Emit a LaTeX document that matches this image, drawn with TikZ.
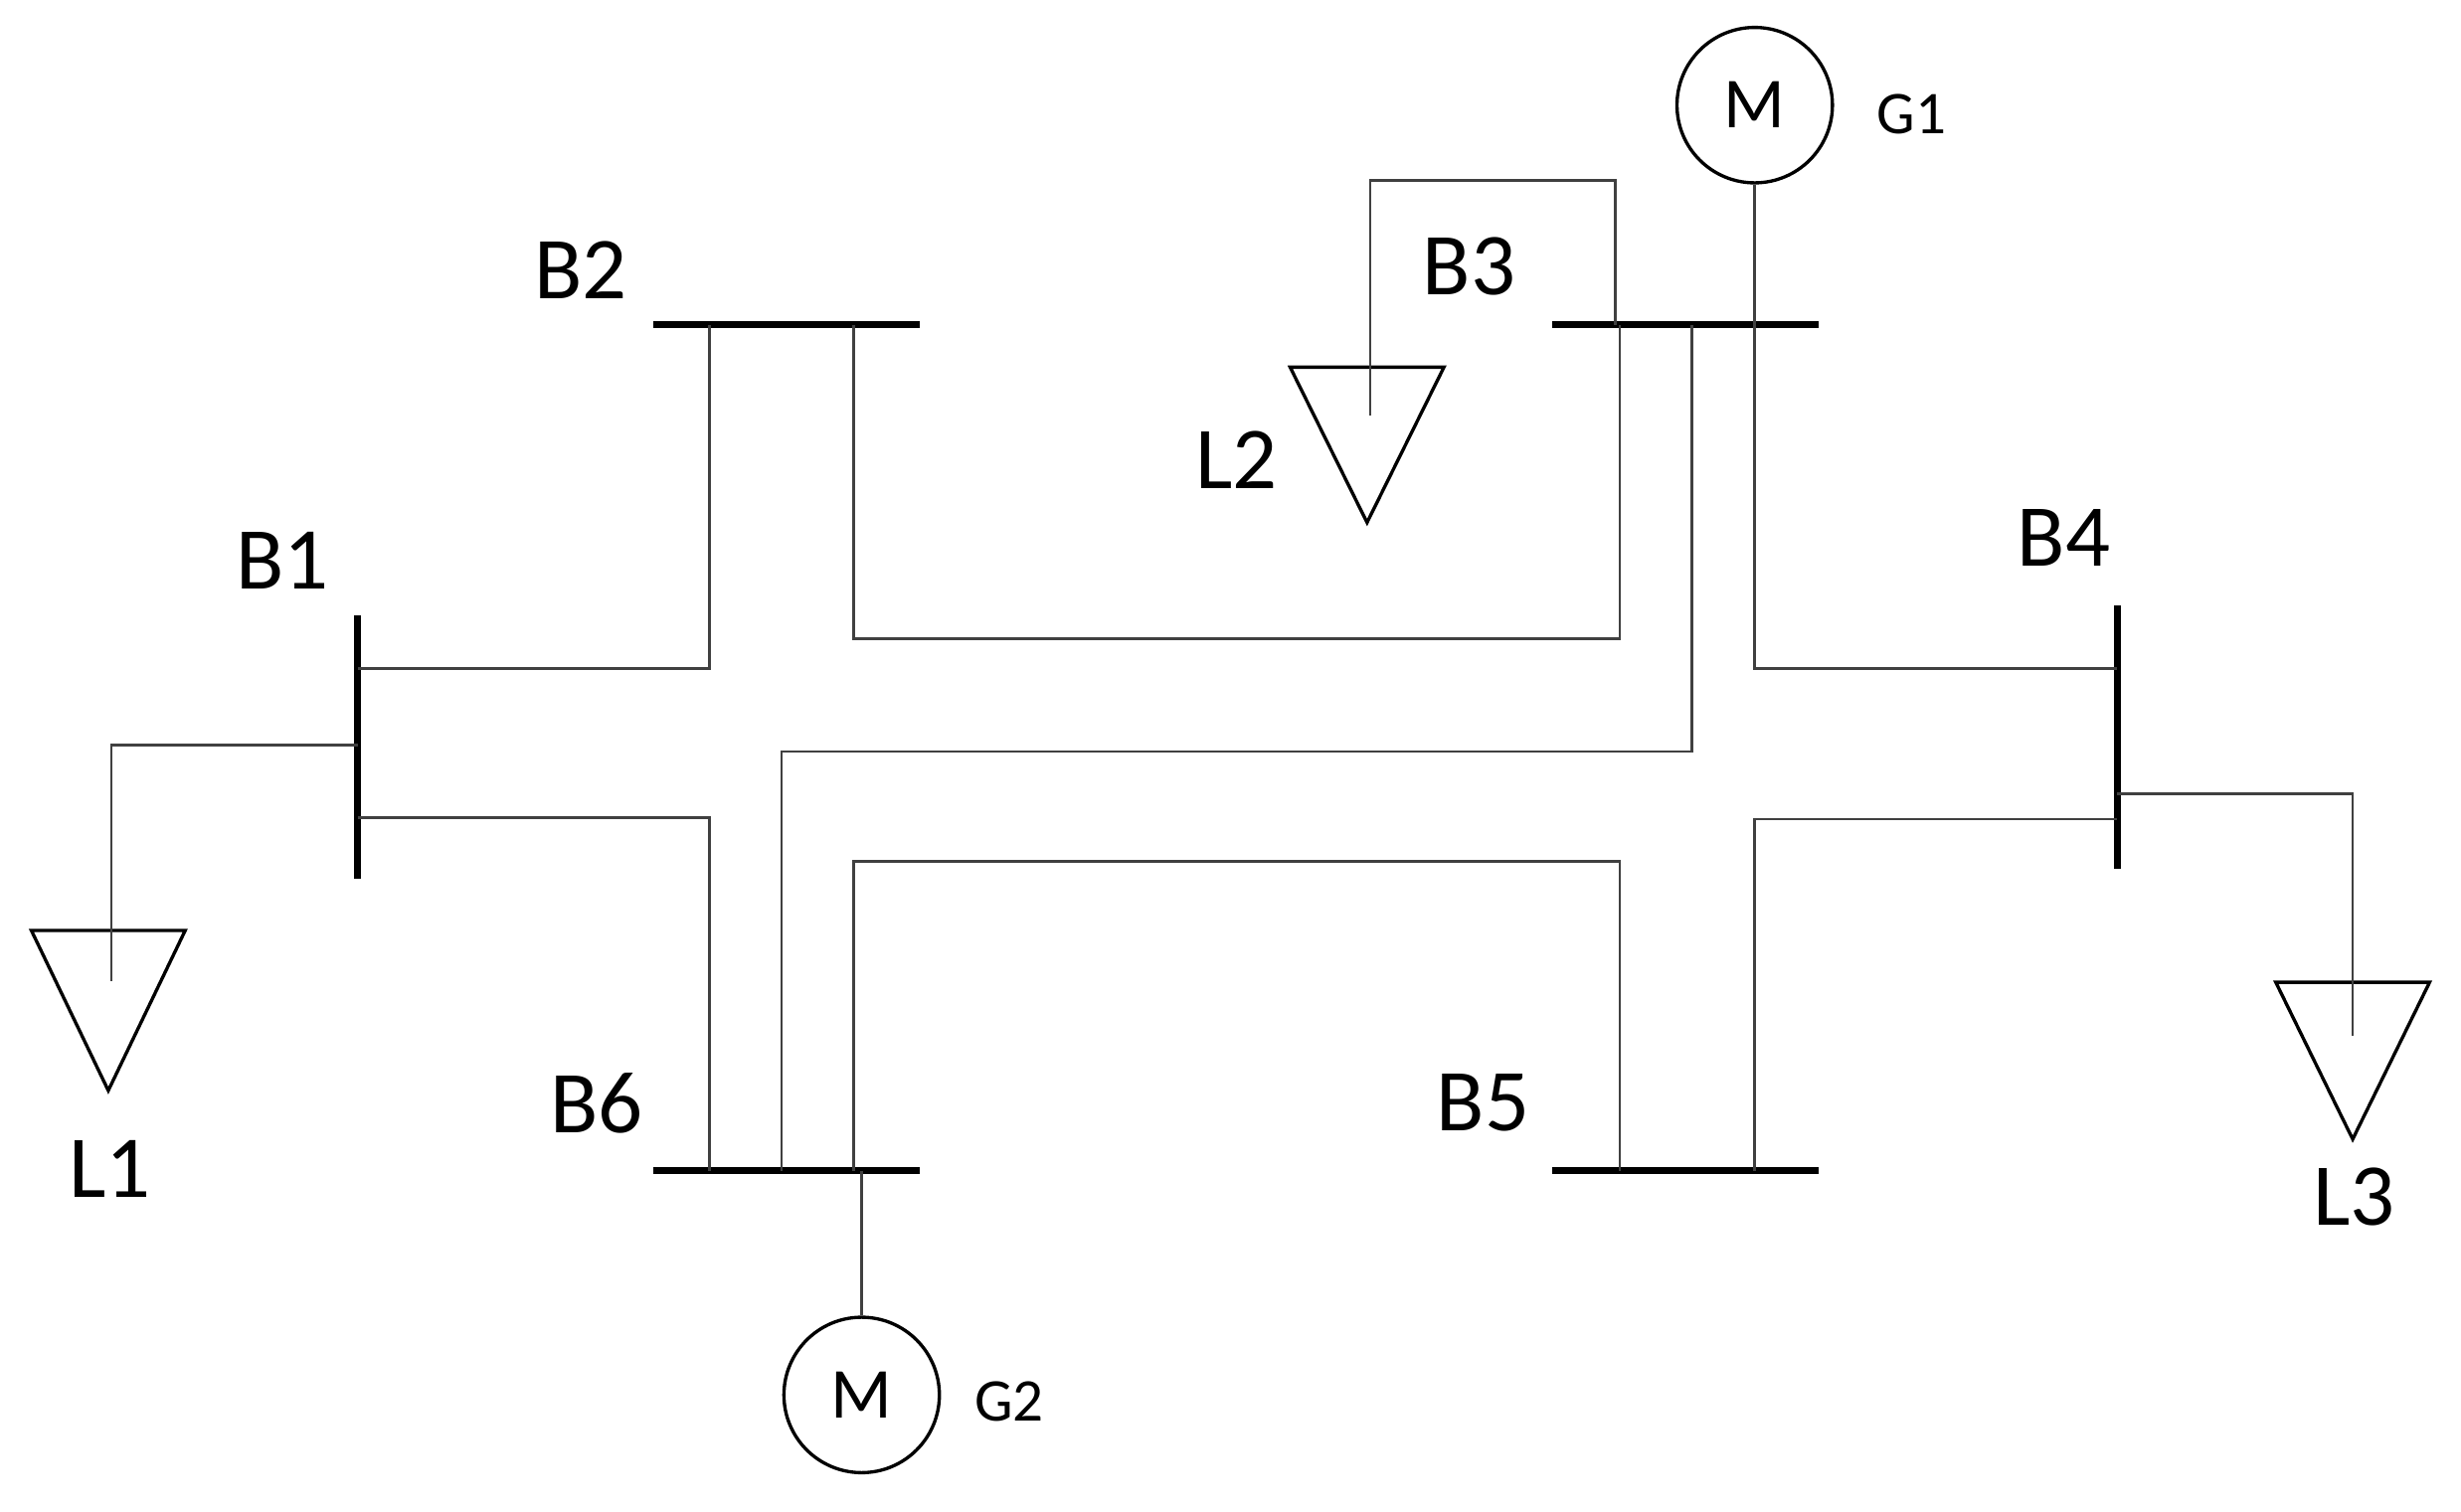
\documentclass[tikz,border=0pt]{standalone}
\usepackage{fontspec}
\setmainfont{Carlito}
\begin{document}
\begin{tikzpicture}[x=0.01cm,y=-0.01cm,
  bus/.style={line width=1.3pt},
  ln/.style={line width=0.5pt,draw=black!75},
  lbl/.style={font=\fontsize{16}{18}\selectfont},
  sml/.style={font=\fontsize{11}{13}\selectfont},
  gen/.style={circle,draw,line width=0.6pt,minimum size=0.99cm,inner sep=0pt,font=\fontsize{13}{15}\selectfont},
  load/.style={line width=0.6pt}]
\useasboundingbox (0,0) rectangle (1568,963);
% buses
\coordinate (B2a) at (416,207); \coordinate (B2b) at (586,207);
\coordinate (B3a) at (989,207); \coordinate (B3b) at (1159,207);
\coordinate (B6a) at (416,746); \coordinate (B6b) at (586,746);
\coordinate (B5a) at (989,746); \coordinate (B5b) at (1159,746);
\coordinate (B1a) at (228,392); \coordinate (B1b) at (228,560);
\coordinate (B4a) at (1349,386); \coordinate (B4b) at (1349,554);
\draw[bus] (B2a)--(B2b); \draw[bus] (B3a)--(B3b);
\draw[bus] (B6a)--(B6b); \draw[bus] (B5a)--(B5b);
\draw[bus] (B1a)--(B1b); \draw[bus] (B4a)--(B4b);
% labels
\node[lbl] (tB2) at (370,172) {B2};
\node[lbl] (tB3) at (936,170) {B3};
\node[lbl] (tB1) at (180,357) {B1};
\node[lbl] (tB4) at (1315,343) {B4};
\node[lbl] (tB6) at (380,703) {B6};
\node[lbl] (tB5) at (945,703) {B5};
\node[lbl] (tL1) at (70,745) {L1};
\node[lbl] (tL2) at (788,293) {L2};
\node[lbl] (tL3) at (1500,763) {L3};
\node[sml] (tG1) at (1218,73) {G1};
\node[sml] (tG2) at (643,893) {G2};
% generators
\node[gen] (G1) at (1118,67) {M};
\node[gen] (G2) at (549,889) {M};
% loads
\draw[load] (20,593)--(118,593)--(69,695)--cycle;
\draw[load] (822,234)--(920,234)--(871,333)--cycle;
\draw[load] (1450,626)--(1548,626)--(1499,726)--cycle;
% lines
\draw[ln] (452,207)--(452,426)--(228,426);
\draw[ln] (544,207)--(544,407)--(1032,407)--(1032,207);
\draw[ln] (228,521)--(452,521)--(452,746);
\draw[ln] (228,475)--(71,475)--(71,625);
\draw[ln] (873,265)--(873,115)--(1029,115)--(1029,207);
\draw[ln] (G1.south)--(1118,426)--(1349,426);
\draw[ln] (1078,207)--(1078,479)--(498,479)--(498,746);
\draw[ln] (544,746)--(544,549)--(1032,549)--(1032,746);
\draw[ln] (1118,746)--(1118,522)--(1349,522);
\draw[ln] (1349,506)--(1499,506)--(1499,660);
\draw[ln] (549,746)--(G2.north);
\end{tikzpicture}
\end{document}
